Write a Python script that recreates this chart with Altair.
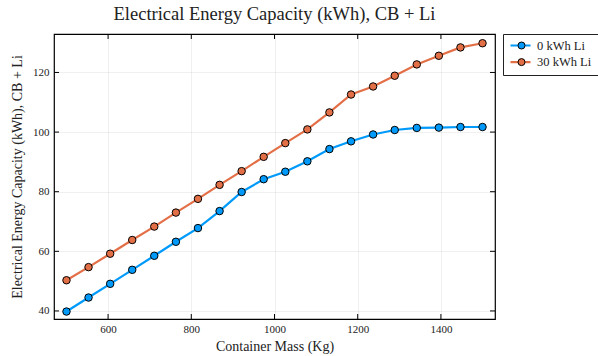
import altair as alt
import pandas as pd

mass = [500, 553, 605, 658, 711, 763, 816, 868, 921, 974,
        1026, 1079, 1132, 1184, 1237, 1289, 1342, 1395, 1447, 1500]
li0 = [39.8, 44.5, 49.1, 53.8, 58.5, 63.2, 67.8, 73.5, 79.9, 84.2,
       86.7, 90.2, 94.3, 96.9, 99.2, 100.7, 101.4, 101.5, 101.7, 101.7]
li30 = [50.3, 54.7, 59.2, 63.8, 68.3, 73.0, 77.6, 82.3, 86.9, 91.7,
        96.3, 100.9, 106.6, 112.6, 115.3, 118.9, 122.7, 125.6, 128.4, 129.8]
series = ["0 kWh Li", "30 kWh Li"]
colors = ["#009AFA", "#E36F47"]
x_ticks = [600, 800, 1000, 1200, 1400]
y_ticks = [40, 60, 80, 100, 120]

rows = []
for s, vals in zip(series, [li0, li30]):
    for m, v in zip(mass, vals):
        rows.append({"mass": m, "energy": v, "series": s})
df = pd.DataFrame(rows)

W, H = 441, 285
FONT = "Liberation Serif"

xs = alt.Scale(domain=[470, 1530], nice=False, zero=False)
ys = alt.Scale(domain=[37.3, 132.9], nice=False, zero=False)

x_enc = alt.X("mass:Q", scale=xs, title="Container Mass (Kg)",
              axis=alt.Axis(values=x_ticks, format="d", ticks=False, domain=False, labelPadding=4,
                            grid=True, gridColor="#000", gridOpacity=0.1, gridWidth=0.6,
                            labelFont=FONT, labelFontSize=11, labelColor="#222",
                            titleFont=FONT, titleFontSize=14, titleFontWeight="normal",
                            titleColor="#222", titlePadding=5))
y_enc = alt.Y("energy:Q", scale=ys, title="Electrical Energy Capacity (kWh), CB + Li",
              axis=alt.Axis(values=y_ticks, format="d", ticks=False, domain=False, labelPadding=5,
                            grid=True, gridColor="#000", gridOpacity=0.1, gridWidth=0.6,
                            labelFont=FONT, labelFontSize=11, labelColor="#222",
                            titleFont=FONT, titleFontSize=14, titleFontWeight="normal",
                            titleColor="#222", titlePadding=8))

lines = alt.Chart(df).mark_line(strokeWidth=2.2).encode(
    x=x_enc, y=y_enc,
    color=alt.Color("series:N", scale=alt.Scale(domain=series, range=colors),
                    legend=alt.Legend(title=None, orient="none", legendX=449, legendY=0,
                                      symbolType="stroke", symbolSize=400, symbolStrokeWidth=2.2,
                                      clipHeight=11, rowPadding=3.6,
                                      strokeColor="#222", fillColor="white", padding=6,
                                      labelFont=FONT, labelFontSize=12.5,
                                      labelColor="#222", labelOffset=5)),
)

points = alt.Chart(df).mark_point(filled=True, size=56, stroke="black", strokeWidth=1,
                                  opacity=1).encode(
    x="mass:Q", y="energy:Q",
    fill=alt.Fill("series:N", scale=alt.Scale(domain=series, range=colors),
                  legend=alt.Legend(title=None, orient="none", legendX=455.5, legendY=0,
                                    symbolType="circle", symbolSize=49, symbolStrokeColor="black",
                                    symbolStrokeWidth=1, padding=6, clipHeight=11, rowPadding=3.6,
                                    labelExpr="''", labelFontSize=12, labelOffset=0,
                                    symbolOpacity=1)),
)

xt = pd.DataFrame({"t": x_ticks})
yt = pd.DataFrame({"t": y_ticks})
tick_bot = alt.Chart(xt).mark_rule(color="black", strokeWidth=1).encode(
    x=alt.X("t:Q", scale=xs), y=alt.value(H), y2=alt.value(H - 5))
tick_top = alt.Chart(xt).mark_rule(color="black", strokeWidth=1).encode(
    x=alt.X("t:Q", scale=xs), y=alt.value(0), y2=alt.value(5))
tick_left = alt.Chart(yt).mark_rule(color="black", strokeWidth=1).encode(
    y=alt.Y("t:Q", scale=ys), x=alt.value(0), x2=alt.value(5))
tick_right = alt.Chart(yt).mark_rule(color="black", strokeWidth=1).encode(
    y=alt.Y("t:Q", scale=ys), x=alt.value(W), x2=alt.value(W - 5))

chart = alt.layer(tick_bot, tick_top, tick_left, tick_right, lines, points).resolve_scale(
    color="independent", fill="independent"
).properties(
    width=W, height=H,
    title=alt.Title("Electrical Energy Capacity (kWh), CB + Li", font=FONT, fontSize=18.5,
                    fontWeight="normal", color="#222", anchor="middle", offset=10),
    autosize=alt.AutoSizeParams(type="none"),
    padding={"left": 54, "top": 34, "right": 103, "bottom": 37},
    background="white",
).configure_view(stroke="black", strokeWidth=1.2)

chart.save("out.html", embed_options={"renderer": "svg", "actions": False})
